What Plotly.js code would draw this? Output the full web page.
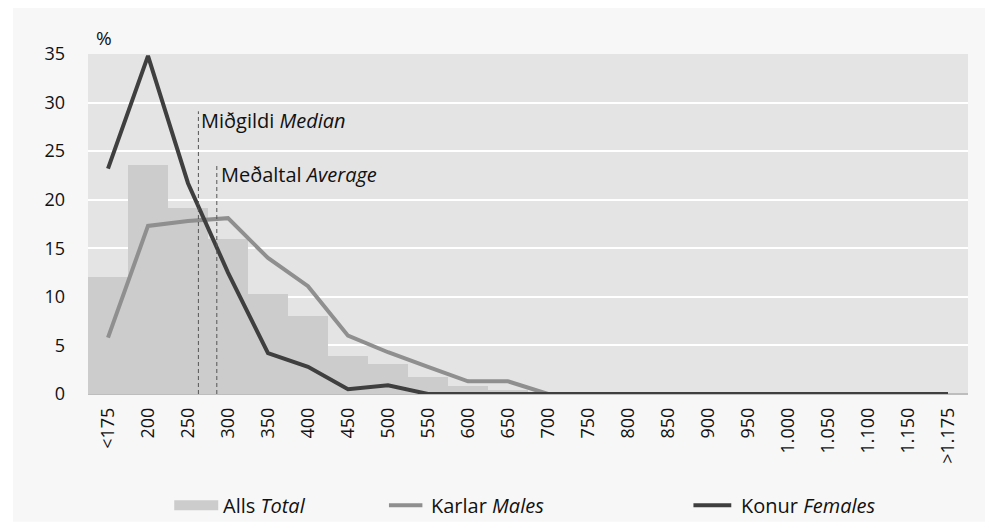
<!DOCTYPE html>
<html>
<head>
<meta charset="utf-8">
<script src="https://cdn.plot.ly/plotly-3.0.1.min.js"></script>
<style>
  html, body { margin: 0; padding: 0; background: #ffffff; }
  #chart { width: 997px; height: 529px; }
</style>
</head>
<body>
<div id="chart"></div>
<script>
// ── Data ──────────────────────────────────────────────────────────────────
const categories = ['<175', '200', '250', '300', '350', '400', '450', '500', '550', '600', '650',
                    '700', '750', '800', '850', '900', '950', '1.000', '1.050', '1.100', '1.150', '>1.175'];
const totalPct   = [12.0, 23.6, 19.1, 16.0, 10.3, 8.0, 3.9, 3.1, 1.7, 0.85, 0.4,
                    0.1, 0, 0, 0, 0, 0, 0, 0, 0, 0, 0];
const malesPct   = [5.8, 17.3, 17.8, 18.1, 14.0, 11.1, 6.0, 4.3, 2.8, 1.3, 1.3,
                    0, 0, 0, 0, 0, 0, 0, 0, 0, 0, 0];
const femalesPct = [23.2, 34.8, 21.7, 12.5, 4.2, 2.8, 0.5, 0.9, 0, 0, 0,
                    0, 0, 0, 0, 0, 0, 0, 0, 0, 0, 0];

const seriesNames = ['Alls <i>Total</i>', 'Karlar <i>Males</i>', 'Konur <i>Females</i>'];

// median / average markers (category-index units) and their line heights (%)
const medianPos  = 2.26, medianTop  = 29.1;
const averagePos = 2.72, averageTop = 23.6;

// ── Styles ────────────────────────────────────────────────────────────────
const C_TOTAL  = '#cccccc';
const C_MALES  = '#8f8f8f';
const C_FEMALE = '#3f3f3f';
const C_TEXT   = '#111111';
const FONT     = 'Open Sans, Noto Sans, Arial, sans-serif';

const traces = [
  {
    type: 'bar', x: categories, y: totalPct, name: seriesNames[0],
    marker: { color: C_TOTAL, line: { width: 0 } },
    hoverinfo: 'skip'
  },
  {
    type: 'scatter', mode: 'lines', x: categories, y: malesPct, name: seriesNames[1],
    line: { color: C_MALES, width: 4 }
  },
  {
    type: 'scatter', mode: 'lines', x: categories, y: femalesPct, name: seriesNames[2],
    line: { color: C_FEMALE, width: 4 }
  }
];

// custom legend (wide swatches like the original)
const legendY = -0.327;
const legendItems = [
  { kind: 'rect', x0: 0.098, x1: 0.148, tx: 0.1515, color: C_TOTAL },
  { kind: 'line', x0: 0.342, x1: 0.380, tx: 0.3875, color: C_MALES },
  { kind: 'line', x0: 0.688, x1: 0.731, tx: 0.7395, color: C_FEMALE }
];

const shapes = [
  // light grey panel behind everything
  { type: 'rect', xref: 'paper', yref: 'paper', x0: -0.0852, x1: 1.0193, y0: -0.376, y1: 1.135,
    fillcolor: '#f7f7f7', line: { width: 0 }, layer: 'below' },
  // plot area background
  { type: 'rect', xref: 'paper', yref: 'paper', x0: 0, x1: 1, y0: 0, y1: 1,
    fillcolor: '#e4e4e4', line: { width: 0 }, layer: 'below' },
  // median & average dashed lines
  { type: 'line', xref: 'x', yref: 'y', x0: medianPos, x1: medianPos, y0: 0, y1: medianTop,
    line: { color: '#555555', width: 1, dash: '4px,3px' } },
  { type: 'line', xref: 'x', yref: 'y', x0: averagePos, x1: averagePos, y0: 0, y1: averageTop,
    line: { color: '#555555', width: 1, dash: '4px,3px' } }
];

legendItems.forEach(it => {
  if (it.kind === 'rect') {
    shapes.push({ type: 'rect', xref: 'paper', yref: 'paper', x0: it.x0, x1: it.x1,
      y0: legendY - 0.0147, y1: legendY + 0.0147, fillcolor: it.color, line: { width: 0 } });
  } else {
    shapes.push({ type: 'line', xref: 'paper', yref: 'paper', x0: it.x0, x1: it.x1,
      y0: legendY, y1: legendY, line: { color: it.color, width: 4 } });
  }
});

const annotations = [
  { xref: 'paper', yref: 'paper', x: 0.018, y: 1.046, text: '%', showarrow: false,
    xanchor: 'center', yanchor: 'middle', font: { size: 19, color: C_TEXT } },
  { xref: 'x', yref: 'y', x: medianPos, y: medianTop - 0.9, text: 'Miðgildi <i>Median</i>',
    showarrow: false, xanchor: 'left', yanchor: 'middle', xshift: 1,
    font: { size: 20, color: C_TEXT } },
  { xref: 'x', yref: 'y', x: averagePos, y: averageTop - 1.0, text: 'Meðaltal <i>Average</i>',
    showarrow: false, xanchor: 'left', yanchor: 'middle', xshift: 2,
    font: { size: 20, color: C_TEXT } },
  ...legendItems.map((it, i) => ({
    xref: 'paper', yref: 'paper', x: it.tx, y: legendY, text: seriesNames[i],
    showarrow: false, xanchor: 'left', yanchor: 'middle',
    font: { size: 20, color: C_TEXT }
  }))
];

const layout = {
  width: 997, height: 529,
  margin: { l: 88, r: 29, t: 54, b: 135 },
  paper_bgcolor: '#ffffff',
  plot_bgcolor: 'rgba(0,0,0,0)',
  font: { family: FONT, size: 18, color: C_TEXT },
  showlegend: false,
  bargap: 0,
  xaxis: {
    type: 'category',
    tickangle: -90,
    ticks: '',
    ticklabelstandoff: 9,
    showgrid: false,
    showline: false,
    tickfont: { size: 18, color: C_TEXT }
  },
  yaxis: {
    range: [0, 35],
    dtick: 5,
    ticks: '',
    ticklabelstandoff: 22,
    showgrid: true,
    gridcolor: '#ffffff',
    gridwidth: 2,
    zeroline: true,
    zerolinecolor: '#bdbdbd',
    zerolinewidth: 2,
    showline: false,
    tickfont: { size: 18, color: C_TEXT }
  },
  shapes,
  annotations
};

Plotly.newPlot('chart', traces, layout, { displayModeBar: false, responsive: false });
</script>
</body>
</html>
